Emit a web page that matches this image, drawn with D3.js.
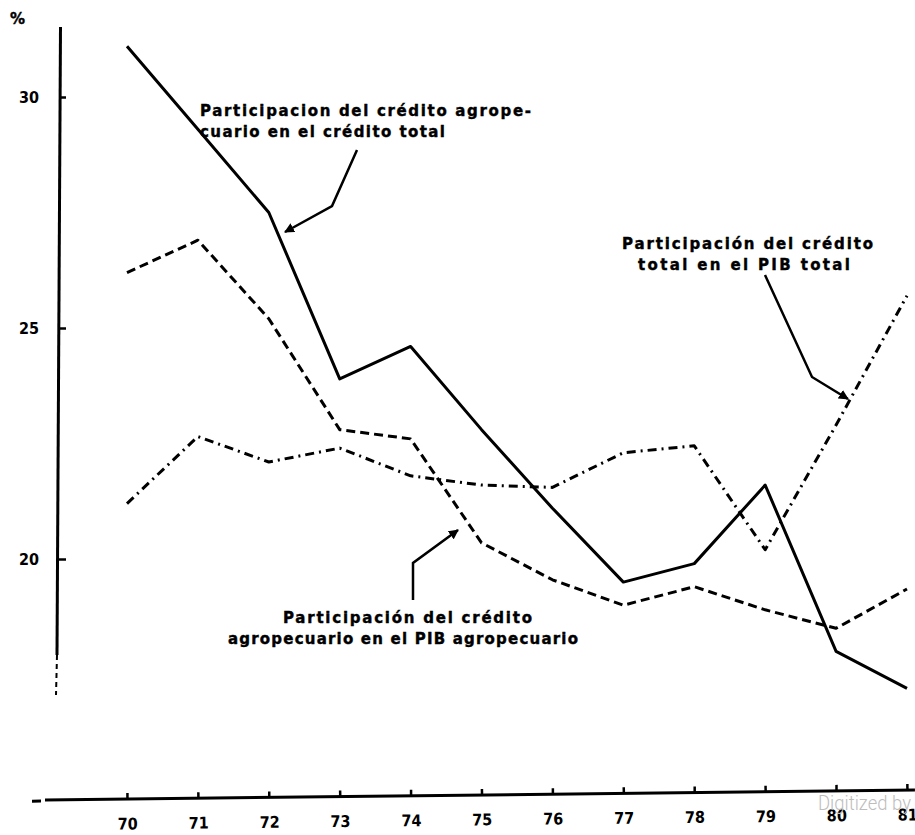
<!DOCTYPE html>
<html>
<head>
<meta charset="utf-8">
<script src="https://d3js.org/d3.v7.min.js"></script>
<style>
  body { margin: 0; background: #fff; }
  svg { display: block; }
  .lbl { font-family: "DejaVu Sans", sans-serif; font-weight: bold; font-size: 15px; fill: #000; stroke: #000; stroke-width: 0.4px; }
  .tick text { font-family: "DejaVu Sans Condensed", "DejaVu Sans", sans-serif; font-weight: bold; font-size: 16px; fill: #000; }
</style>
</head>
<body>
<svg id="chart" width="915" height="835"></svg>
<script>
// years 1970-1981
var years = [70, 71, 72, 73, 74, 75, 76, 77, 78, 79, 80, 81];
// % credito agropecuario / credito total
var agroEnTotal = [31.1, 29.3, 27.5, 23.9, 24.6, 22.8, 21.1, 19.5, 19.9, 21.6, 18.0, 17.2];
// % credito agropecuario / PIB agropecuario
var agroEnPib = [26.2, 26.9, 25.2, 22.8, 22.6, 20.35, 19.55, 19.0, 19.4, 18.9, 18.5, 19.35];
// % credito total / PIB total
var totalEnPib = [21.2, 22.65, 22.1, 22.4, 21.8, 21.6, 21.55, 22.3, 22.45, 20.2, 22.9, 25.7];
var yTicks = [20, 25, 30];

var svg = d3.select("#chart");

var x = d3.scaleLinear().domain([70, 81]).range([127, 907]);
var y = d3.scaleLinear().domain([20, 30]).range([559, 97]);

// y axis
var yAxis = d3.axisLeft(y).tickValues(yTicks).tickSize(-7).tickPadding(20).tickFormat(d3.format("d"));
var gy = svg.append("g").attr("transform", "translate(59,0)").call(yAxis);
gy.select(".domain").remove();
gy.selectAll(".tick line").attr("stroke", "#000").attr("stroke-width", 2.5);
gy.append("line").attr("x1", 1.5).attr("y1", 27).attr("x2", -2).attr("y2", 655)
  .attr("stroke", "#000").attr("stroke-width", 3);
gy.append("line").attr("x1", -2).attr("y1", 655).attr("x2", -3).attr("y2", 695)
  .attr("stroke", "#000").attr("stroke-width", 2).attr("stroke-dasharray", "5,4");
svg.append("text").attr("class", "lbl").attr("x", 10).attr("y", 24).text("%");

// x axis (slightly tilted like the scan)
var xAxis = d3.axisBottom(x).tickValues(years).tickSize(-6).tickPadding(19).tickFormat(d3.format("d"));
var gx = svg.append("g").attr("transform", "translate(0,800) rotate(-0.66 45 0)").call(xAxis);
gx.select(".domain").remove();
gx.selectAll(".tick line").attr("stroke", "#000").attr("stroke-width", 2.5);
gx.append("line").attr("x1", 45).attr("y1", 0).attr("x2", 915).attr("y2", 0)
  .attr("stroke", "#000").attr("stroke-width", 3);
gx.append("line").attr("x1", 32).attr("y1", 1).attr("x2", 41).attr("y2", 1)
  .attr("stroke", "#000").attr("stroke-width", 3);

// series
var line = d3.line().x(function(d, i) { return x(years[i]); }).y(function(d) { return y(d); });
var series = [
  { data: agroEnTotal, dash: null },
  { data: agroEnPib, dash: "9,5" },
  { data: totalEnPib, dash: "9,5,2,5" }
];
svg.selectAll("path.series").data(series).enter().append("path")
  .attr("class", "series")
  .attr("d", function(d) { return line(d.data); })
  .attr("fill", "none").attr("stroke", "#000").attr("stroke-width", 3)
  .attr("stroke-linejoin", "round")
  .attr("stroke-dasharray", function(d) { return d.dash; });

// arrowheads
svg.append("defs").append("marker").attr("id", "arr")
  .attr("viewBox", "0 0 10 10").attr("refX", 9).attr("refY", 5)
  .attr("markerWidth", 4).attr("markerHeight", 4).attr("orient", "auto")
  .append("path").attr("d", "M0,0 L10,5 L0,10 z").attr("fill", "#000");

var arrows = [
  [[357, 150], [332, 206], [285, 232]],
  [[765, 275], [812, 377], [848, 399]],
  [[413, 600], [413, 563], [458, 530]]
];
svg.selectAll("path.arrow").data(arrows).enter().append("path")
  .attr("class", "arrow").attr("d", d3.line())
  .attr("fill", "none").attr("stroke", "#000").attr("stroke-width", 2.5)
  .attr("marker-end", "url(#arr)");

// labels
var labels = [
  { x: 200, y: 116, w: 331, t: "Participacion del crédito agrope-" },
  { x: 200, y: 137, w: 245, t: "cuario en el crédito total" },
  { x: 622, y: 249, w: 251, t: "Participación del crédito" },
  { x: 638, y: 270, w: 212, t: "total en el PIB total" },
  { x: 283, y: 623, w: 249, t: "Participación del crédito" },
  { x: 228, y: 644, w: 350, t: "agropecuario en el PIB agropecuario" }
];
svg.selectAll("text.note").data(labels).enter().append("text")
  .attr("class", "lbl note")
  .attr("x", function(d) { return d.x; }).attr("y", function(d) { return d.y; })
  .attr("textLength", function(d) { return d.w; }).attr("lengthAdjust", "spacing")
  .text(function(d) { return d.t; });

svg.append("text").attr("x", 818).attr("y", 810)
  .attr("textLength", 93).attr("lengthAdjust", "spacingAndGlyphs")
  .style("font-family", "Roboto, sans-serif").style("font-weight", 300)
  .style("font-size", "21px").style("fill", "#bdbdbd")
  .text("Digitized by");
</script>
</body>
</html>
